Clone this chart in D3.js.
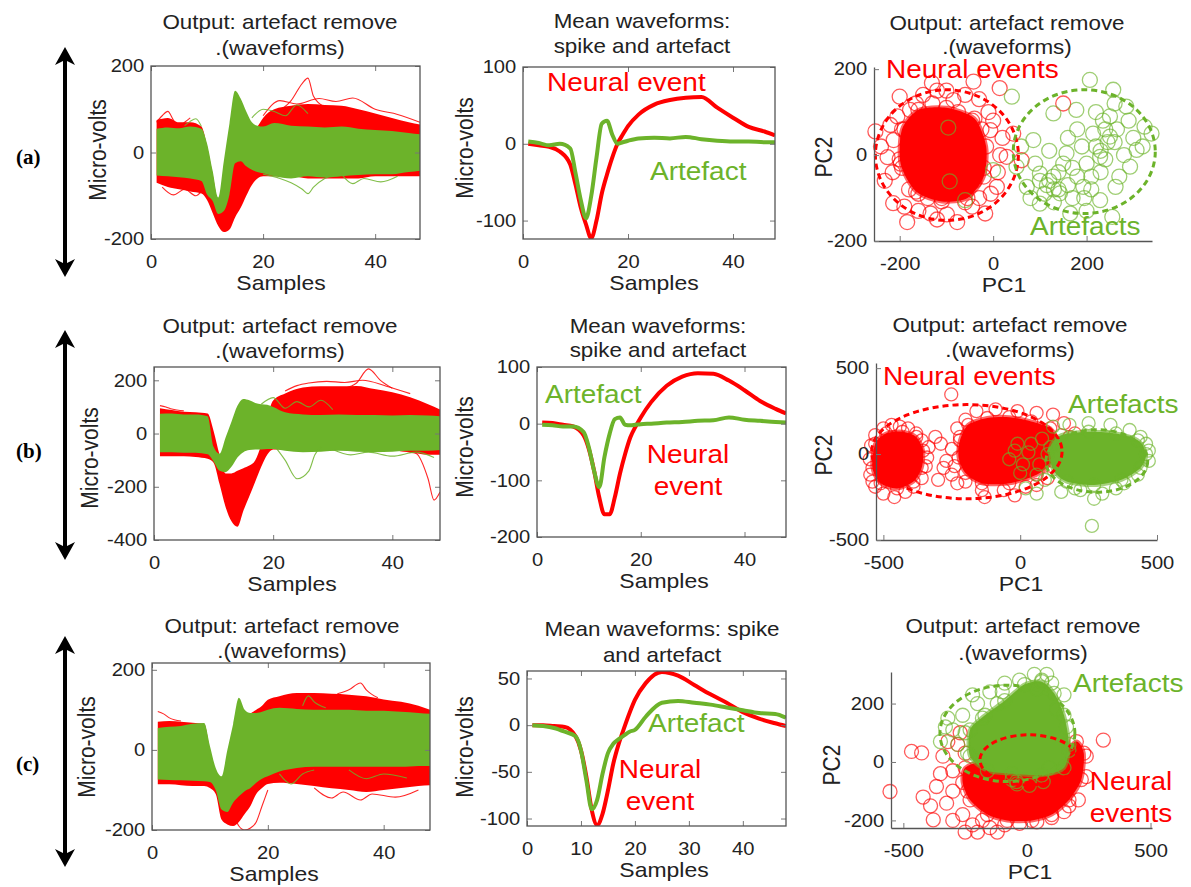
<!DOCTYPE html>
<html>
<head>
<meta charset="utf-8">
<script src="https://cdn.jsdelivr.net/npm/d3@7"></script>
<style>body{margin:0;background:#fff}</style>
</head>
<body>
<div id="container"></div>
<script>
// colours
let red = "#FF0000";
let green = "#6CB32A";
let ink = "#222";
let font = "'Liberation Sans', Arial, sans-serif";
let SX = 1.12; // the picture is a little stretched sideways

// sample grid shared by all waveform panels
let samples = [1,3,5,7,9,10,11,12,13,14,15,16,17,18,19,20,22,25,28,31,34,37,40,43,46,48];

// ---- row (a) ----
let aGreenHi = [55,58,56,60,55,21,-42,-104,-19,67,143,125,95,70,62,60,68,62,60,58,60,55,52,50,45,42];
let aGreenLo = [-53,-55,-57,-60,-66,-97,-112,-142,-135,-97,-25,-20,-32,-40,-45,-48,-55,-60,-55,-58,-55,-52,-50,-50,-45,-42];
let aRedHi = [75,80,70,70,60,15,-50,-110,-60,-20,0,10,30,45,60,80,100,108,112,110,108,100,90,80,70,65];
let aRedLo = [-70,-80,-85,-90,-95,-110,-140,-170,-184,-178,-150,-128,-100,-75,-60,-55,-55,-55,-60,-60,-60,-60,-55,-55,-55,-55];
let aRedOut = [[[22,90],[25,120],[27,160],[28,172],[29,130],[31,105],[34,95]], [[1,70],[2,85],[3,95],[4,75],[5,60],[6,70],[7,80]],
  [[20,85],[23,120],[26,112],[30,125],[33,118],[36,126],[40,100],[44,88],[48,70]], [[2,-80],[4,-98],[6,-85],[8,-100],[9,-90]]];
let aGreenOut = [[[20,-50],[23,-60],[25,-70],[27,-85],[28,-95],[29,-80],[31,-60],[33,-50]], [[18,80],[20,100],[22,95],[24,85],[26,110],[28,90]],
  [[34,-50],[36,-72],[38,-60],[41,-68],[44,-55]], [[6,62],[7,72],[8,78],[9,60]]];
let aMeanRed = [0,-2,-4,-10,-27,-53,-83,-105,-123,-100,-65,-40,-18,0,12,23,38,51,57,60,61,47,34,22,16,11];
let aMeanGreen = [3,1,-2,0,-6,-38,-73,-97,-68,-18,26,30,12,0,2,4,7,8,7,9,6,4,3,3,2,2];
let aRedPts = [[-252,55],[-232,-60],[-214,-112],[-200,136],[-184,-156],[-178,105],[-213,35],[-226,-5],[-131,168],[-85,128],[-42,171],[14,156],[-77,-156],[-134,-136],[-99,-138],[-17,-136],[8,-74],[29,-4],[43,50],[61,-12],[-6,58],[150,120],
  [-190,60],[-175,10],[-170,-40],[-160,-90],[-150,80],[-145,30],[-140,-20],[-135,-60],[-130,120],[-125,50],[-120,0],[-115,-40],[-110,-100],[-105,90],[-100,20],[-95,-15],[-90,-70],[-85,60],[-80,-30],[-75,100],[-70,10],[-65,-50],[-60,-110],[-55,40],[-50,-10],[-45,80],[-40,-60],[-35,20],[-30,-100],[-25,60],[-20,-30],
  [-160,-130],[-195,-30],[-205,90],[-120,150],[-60,140],[-10,100],[20,40],[10,-40],[-150,-5],[-110,40],[-90,-40],[-130,-10],[-100,70],[-70,-80],[-140,-100],[-180,-80],[-45,-120],[-200,-10],[-165,120],
  [-220,70],[-215,-40],[-190,-120],[-150,140],[-100,150],[-30,130],[0,80],[15,0],[-5,-90],[-120,-150],[-240,20]];
let aRedCore = [[-195,60],[-160,105],[-100,110],[-40,85],[-15,20],[-20,-50],[-55,-100],[-110,-108],[-165,-85],[-198,-20]];
let aGreenPts = [[207,175],[40,136],[257,152],[339,50],[324,66],[262,-74],[255,-144],[165,-136],[100,-113],[72,-74],[50,-27],[0,-35],[-60,-105],[86,35],[129,97],[178,105],[285,113],[307,12],[293,-27],[229,-4],[193,-74],[129,-50],[100,-43],[214,50],[250,43],[157,4],[143,-89],[229,-105],
  [120,-60],[140,-40],[160,-70],[180,-50],[200,-20],[220,20],[240,60],[260,30],[280,0],[300,40],[230,-40],[190,20],[150,-20],[110,-90],[130,-110],[170,-100],[250,90],[270,-50],[210,-80],[180,60],[90,-20],[120,10],[240,-10],[200,-130],[290,80],[320,20],[160,40],[100,-60],[140,-80],[220,100],[260,120],[60,20],[80,-100],[-96,64],[-93,-61],[230,10],[210,-50],[170,-30],[130,-80],[115,-70],[245,30],[265,60],[235,80],[195,-100]];
let aRedEllipse = [-99,0,153,152];
let aGreenEllipse = [195,8,152,144];

// ---- row (b) ----
let bGreenHi = [74,75,72,72,65,-50,-76,-16,44,104,130,125,115,110,108,100,80,72,70,72,70,70,68,70,68,65];
let bGreenLo = [-70,-70,-72,-72,-78,-105,-140,-145,-125,-90,-70,-62,-60,-60,-58,-58,-65,-70,-68,-65,-68,-70,-68,-65,-65,-62];
let bRedHi = [95,88,82,80,75,10,-80,-150,-150,-140,-130,-120,-100,-40,60,124,150,173,178,178,179,167,155,136,110,90];
let bRedLo = [-85,-85,-85,-88,-95,-110,-190,-275,-330,-350,-290,-236,-180,-125,-80,-60,-60,-62,-62,-62,-65,-65,-65,-70,-80,-80];
let bRedOut = [[[40,-60],[43,-70],[44,-75],[46,-170],[47,-250],[48,-220]], [[32,170],[34,190],[36,243],[38,200],[40,170]], [[1,105],[2,100],[3,92],[5,85]],
  [[22,160],[24,180],[26,190],[29,196],[32,192],[35,200],[39,178],[43,150]]];
let bGreenOut = [[[20,-40],[22,-100],[24,-170],[26,-140],[27,-80],[28,-50]], [[18,110],[20,135],[22,95],[24,120],[26,100],[28,125],[30,90]],
  [[30,-60],[33,-80],[36,-70],[40,-85],[44,-70],[47,-90]]];
let bMeanRed = [2,1,-2,-5,-21,-45,-83,-130,-160,-160,-130,-88,-53,-24,-5,11,38,67,83,89,88,76,59,40,26,18];
let bMeanGreen = [-2,-3,-5,-5,-15,-42,-83,-112,-59,-18,8,11,-2,-3,-2,-1,0,2,3,5,6,11,7,5,3,2];
let bRedPts = [[-548,-120],[-550,-30],[-545,50],[-530,110],[-500,150],[-470,170],[-440,160],[-410,150],[-380,120],[-360,80],[-335,40],[-340,-20],[-345,-70],[-360,-140],[-390,-190],[-420,-220],[-460,-250],[-500,-230],[-530,-190],[-540,-160],[-480,40],[-440,-40],[-500,-100],[-420,60],[-460,-150],
  [-290,60],[-300,-150],[-250,-120],[-270,-40],[-310,100],[-252,347],[-230,-170],[-280,-80],
  [-230,150],[-200,200],[-160,250],[-90,260],[-10,250],[60,240],[120,230],[160,180],[180,100],[170,20],[150,-60],[100,-140],[20,-190],[-60,-210],[-140,-210],[-200,-160],[-240,-70],[-250,30],[-130,-250],[-20,-240],[200,120],[190,-20],[-220,100],[60,-180],[40,-40],[90,30]];
let bRedCoreL = [[-530,60],[-490,120],[-430,130],[-380,100],[-355,20],[-360,-80],[-390,-160],[-450,-200],[-510,-170],[-540,-80]];
let bRedCoreM = [[-220,80],[-190,170],[-120,210],[-40,215],[40,190],[110,150],[140,60],[120,-40],[60,-120],[-40,-170],[-140,-170],[-200,-110],[-225,-20]];
let bGreenPts = [[30,10],[-20,20],[10,-60],[60,-120],[40,60],[80,90],[90,-150],[20,-200],[60,-230],[150,-220],[220,-210],[270,-260],[300,-230],[262,-418],[180,170],[250,180],[330,170],[400,140],[460,60],[470,-40],[430,-120],[350,-200],[120,160],[0,-110],[-40,-30],[100,0],[130,-20],[200,-200],[380,-170],[470,20],[440,100],[-10,60],[70,-60]];
let bGreenCore = [[110,40],[150,110],[250,130],[350,120],[430,80],[460,0],[440,-80],[370,-150],[270,-180],[170,-160],[120,-90]];
let bRedEllipse = [-195,14,348,274];
let bGreenEllipse = [280,-40,186,182];

// ---- row (c) ----
let cGreenHi = [55,58,60,65,67,10,-45,-66,-1,64,130,100,92,92,95,100,105,102,100,100,100,98,98,95,92,90];
let cGreenLo = [-74,-75,-76,-77,-78,-80,-100,-149,-155,-132,-116,-103,-95,-82,-72,-66,-54,-45,-42,-42,-42,-42,-42,-42,-40,-40];
let cRedHi = [70,72,70,68,65,0,-60,-80,-40,0,40,70,90,100,110,125,134,142,142,140,138,134,126,120,110,100];
let cRedLo = [-86,-86,-88,-90,-90,-95,-110,-174,-186,-190,-180,-160,-140,-110,-95,-85,-82,-85,-90,-96,-100,-105,-100,-95,-90,-88];
let cRedOut = [[[14,-160],[15,-190],[16,-200],[17,-195],[18,-180],[19,-140],[20,-100]], [[32,140],[34,150],[36,167],[37,150],[39,130]], [[1,96],[2,90],[3,80],[5,72]],
  [[28,-95],[31,-120],[33,-105],[36,-125],[38,-110],[42,-118],[46,-100]]];
let cGreenOut = [[[22,-60],[24,-85],[26,-60],[28,-50]], [[26,110],[27,135],[28,120],[30,105]], [[34,-50],[37,-72],[40,-60],[44,-70]]];
let cMeanRed = [0,0,-1,-2,-12,-27,-55,-91,-107,-95,-70,-41,-20,-3,13,27,45,57,53,43,33,24,14,7,2,-1];
let cMeanGreen = [0,-1,-3,-7,-12,-27,-59,-90,-80,-52,-30,-20,-15,-11,-7,-5,9,24,26,24,22,19,16,13,12,8];
let cRedPts = [[-554,-101],[-467,36],[-426,31],[-366,-84],[-379,-198],[-325,-141],[-300,-30],[-340,20],[-280,60],[-260,-180],[-300,-200],[-220,-215],[-150,-225],[-90,-215],[-30,-210],[40,-205],[100,-190],[170,-150],[208,-130],[240,-50],[240,20],[309,75],[-390,-150],[-420,-120],[-300,-100],[-250,-240],[-200,-240],[-350,-40],[-240,-100],[-320,70],[-270,100],[-200,80],[-250,30],[-180,-200],[-120,-240],[150,-170]];
let cRedCore = [[-250,-20],[-180,0],[-100,-30],[0,-40],[80,-20],[150,30],[200,70],[230,30],[220,-60],[170,-130],[100,-180],[20,-200],[-80,-200],[-160,-180],[-230,-130],[-260,-70]];
let cGreenPts = [[-350,70],[-300,110],[-260,160],[-200,200],[-150,240],[-90,270],[-30,280],[30,300],[80,300],[100,270],[150,230],[160,120],[170,40],[-320,150],[-280,60],[-220,230],[-120,200],[-60,-60],[10,-80],[-40,-75],[90,-20],[-42,-67],[66,-67],[-250,100],[-180,150],[40,250],[120,180],[-330,120],[-240,30],[-100,240],[60,280]];
let cGreenCore = [[-230,110],[-170,160],[-90,210],[-10,265],[60,275],[110,235],[150,160],[170,60],[150,-20],[60,-45],[-60,-40],[-160,-30],[-230,20]];
let cRedEllipse = [8,7,198,86];
let cGreenEllipse = [-79,98,273,165];

let waveTicks = [0,20,40];
let waveTicksC = [0,10,20,30,40];

let viz = d3.select("#container")
  .append("svg")
    .attr("width", 1191)
    .attr("height", 887)
    .style("background-color", "white");

function txt(str, x, y, size, color, o) {
  o = o || {};
  return viz.append("text").text(str)
    .attr("transform", "translate(" + x + "," + y + ") scale(" + (o.sx || SX) + ",1)" + (o.rot ? " rotate(-90)" : ""))
    .attr("text-anchor", o.anchor || "start")
    .attr("font-family", o.family || font)
    .attr("font-weight", o.weight || "normal")
    .attr("font-size", size)
    .attr("fill", color);
}

let clipId = 0;
function scales(p) {
  let s = {
    x: d3.scaleLinear().domain(p.xdom).range([p.left, p.right]),
    y: d3.scaleLinear().domain(p.ydom).range([p.bottom, p.top])
  };
  clipId++;
  viz.append("clipPath").attr("id", "clip" + clipId)
    .append("rect").attr("x", p.left).attr("y", p.top)
    .attr("width", p.right - p.left).attr("height", p.bottom - p.top);
  s.g = viz.append("g");
  if (p.box) s.g.attr("clip-path", "url(#clip" + clipId + ")");
  return s;
}

function axes(p, s) {
  let fmt = d => String(d);
  let gx = viz.append("g").attr("transform", "translate(0," + p.bottom + ")")
    .call(d3.axisBottom(s.x).tickValues(p.xticks).tickSize(-5).tickSizeOuter(0).tickPadding(16).tickFormat(fmt));
  let gy = viz.append("g").attr("transform", "translate(" + p.left + ",0)")
    .call(d3.axisLeft(s.y).tickValues(p.yticks).tickSize(-5).tickSizeOuter(0).tickPadding(6).tickFormat(fmt));
  let all = [gx, gy];
  if (p.box) {
    all.push(viz.append("g").attr("transform", "translate(0," + p.top + ")")
      .call(d3.axisTop(s.x).tickValues(p.xticks).tickSize(-5).tickSizeOuter(0).tickFormat("")));
    all.push(viz.append("g").attr("transform", "translate(" + p.right + ",0)")
      .call(d3.axisRight(s.y).tickValues(p.yticks).tickSize(-5).tickSizeOuter(0).tickFormat("")));
    all.forEach(a => a.select(".domain").remove());
    viz.append("rect").attr("x", p.left).attr("y", p.top)
      .attr("width", p.right - p.left).attr("height", p.bottom - p.top)
      .attr("fill", "none").attr("stroke", "#555").attr("stroke-width", 1.3);
  } else {
    all.forEach(a => a.select(".domain").attr("stroke", "#555").attr("stroke-width", 1.3));
  }
  all.forEach(a => {
    a.selectAll(".tick line").attr("stroke", "#777");
    a.selectAll(".tick text")
      .attr("font-size", 18).attr("font-family", font).attr("fill", ink)
      .attr("transform", "scale(" + SX + ",1)");
  });
  // titles and axis labels
  txt(p.title[0], p.tx, p.ty[0], 20, ink, {anchor: "middle"});
  txt(p.title[1], p.tx, p.ty[1], 20, ink, {anchor: "middle"});
  txt(p.xlabel, p.lx, p.bottom + 51, 20.5, ink, {anchor: "middle"});
  txt(p.ylabel, p.yx, p.yy, 21, ink, {anchor: "middle", rot: true});
}

function band(s, hi, lo, color) {
  let rows = samples.map((d, i) => [d, hi[i], lo[i]]);
  s.g.append("path").datum(rows)
    .attr("d", d3.area().x(d => s.x(d[0])).y0(d => s.y(d[2])).y1(d => s.y(d[1])).curve(d3.curveMonotoneX))
    .attr("fill", color);
}

function traces(s, list, color) {
  s.g.selectAll(null).data(list).enter().append("path")
    .attr("d", d3.line().x(d => s.x(d[0])).y(d => s.y(d[1])).curve(d3.curveMonotoneX))
    .attr("fill", "none").attr("stroke", color).attr("stroke-width", 1.1).attr("opacity", 0.85);
}

function meanLine(s, vals, color) {
  let rows = samples.map((d, i) => [d, vals[i]]);
  s.g.append("path").datum(rows)
    .attr("d", d3.line().x(d => s.x(d[0])).y(d => s.y(d[1])).curve(d3.curveMonotoneX))
    .attr("fill", "none").attr("stroke", color).attr("stroke-width", 4)
    .attr("stroke-linejoin", "round");
}

function core(s, pts, color, r) {
  s.g.append("path").datum(pts)
    .attr("d", d3.line().x(d => s.x(d[0])).y(d => s.y(d[1])).curve(d3.curveCardinalClosed.tension(0.2)))
    .attr("fill", color).attr("stroke", color).attr("stroke-width", 4).attr("stroke-opacity", 0.6);
  // the rim of a dense cloud is made of circles too
  dots(s, pts, color, r);
}

function dots(s, pts, color, r) {
  s.g.selectAll(null).data(pts).enter().append("circle")
    .attr("cx", d => s.x(d[0])).attr("cy", d => s.y(d[1])).attr("r", r)
    .attr("fill", "none").attr("stroke", color).attr("stroke-width", 1.3).attr("stroke-opacity", 0.65);
}

function ellipse(s, e, color) {
  s.g.append("ellipse")
    .attr("cx", s.x(e[0])).attr("cy", s.y(e[1]))
    .attr("rx", Math.abs(s.x(e[2]) - s.x(0))).attr("ry", Math.abs(s.y(e[3]) - s.y(0)))
    .attr("fill", "none").attr("stroke", color).attr("stroke-width", 3)
    .attr("stroke-dasharray", "6,4");
}

let outTitle = ["Output: artefact remove", ".(waveforms)"];

// ---------- row (a) ----------
let pA1 = {left:151, right:420, top:66, bottom:239, xdom:[0,48], ydom:[-200,200], xticks:waveTicks, yticks:[-200,0,200], box:true,
  title:outTitle, tx:280, ty:[29,55], xlabel:"Samples", lx:281, ylabel:"Micro-volts", yx:106, yy:150};
let sA1 = scales(pA1);
band(sA1, aRedHi, aRedLo, red);
traces(sA1, aRedOut, red);
band(sA1, aGreenHi, aGreenLo, green);
traces(sA1, aGreenOut, green);
axes(pA1, sA1);

let pA2 = {left:523, right:775, top:67, bottom:239, xdom:[0,48], ydom:[-124,100], xticks:waveTicks, yticks:[-100,0,100], box:true,
  title:["Mean waveforms:", "spike and artefact"], tx:642, ty:[28,53], xlabel:"Samples", lx:654, ylabel:"Micro-volts", yx:473, yy:148};
let sA2 = scales(pA2);
meanLine(sA2, aMeanRed, red);
meanLine(sA2, aMeanGreen, green);
axes(pA2, sA2);
txt("Neural event", 547, 91, 25, red);
txt("Artefact", 650, 180, 25, green);

let pA3 = {left:874, right:1152, top:67, bottom:241, xdom:[-255,340], ydom:[-200,205], xticks:[-200,0,200], yticks:[-200,0,200], box:false,
  title:outTitle, tx:1007, ty:[30,54], xlabel:"PC1", lx:1004, ylabel:"PC2", yx:832, yy:157};
let sA3 = scales(pA3);
core(sA3, aRedCore, red, 7.5);
dots(sA3, aRedPts, red, 7.5);
dots(sA3, aGreenPts, green, 7.5);
ellipse(sA3, aRedEllipse, red);
ellipse(sA3, aGreenEllipse, green);
axes(pA3, sA3);
txt("Neural events", 886, 78, 25, red);
txt("Artefacts", 1030, 235, 25, green);

// ---------- row (b) ----------
let pB1 = {left:154, right:440, top:367, bottom:540, xdom:[0,48], ydom:[-400,250], xticks:waveTicks, yticks:[-400,-200,0,200], box:true,
  title:outTitle, tx:280, ty:[333,358], xlabel:"Samples", lx:292, ylabel:"Micro-volts", yx:98, yy:458};
let sB1 = scales(pB1);
band(sB1, bRedHi, bRedLo, red);
traces(sB1, bRedOut, red);
band(sB1, bGreenHi, bGreenLo, green);
traces(sB1, bGreenOut, green);
axes(pB1, sB1);

let pB2 = {left:537, right:786, top:367, bottom:537, xdom:[0,48], ydom:[-200,100], xticks:waveTicks, yticks:[-200,-100,0,100], box:true,
  title:["Mean waveforms:", "spike and artefact"], tx:658, ty:[333,357], xlabel:"Samples", lx:664, ylabel:"Micro-volts", yx:473, yy:447};
let sB2 = scales(pB2);
meanLine(sB2, bMeanRed, red);
meanLine(sB2, bMeanGreen, green);
axes(pB2, sB2);
txt("Artefact", 545, 403, 25, green);
txt("Neural", 688, 463, 25, red, {anchor:"middle"});
txt("event", 688, 495, 25, red, {anchor:"middle"});

let pB3 = {left:876, right:1157, top:363, bottom:540, xdom:[-527,500], ydom:[-500,530], xticks:[-500,0,500], yticks:[-500,0,500], box:false,
  title:outTitle, tx:1010, ty:[332,357], xlabel:"PC1", lx:1021, ylabel:"PC2", yx:832, yy:455};
let sB3 = scales(pB3);
core(sB3, bRedCoreL, red, 6.5);
core(sB3, bRedCoreM, red, 6.5);
dots(sB3, bRedPts, red, 6.5);
core(sB3, bGreenCore, green, 6.5);
dots(sB3, bGreenPts, green, 6.5);
ellipse(sB3, bRedEllipse, red);
ellipse(sB3, bGreenEllipse, green);
axes(pB3, sB3);
txt("Neural events", 883, 385, 25, red);
txt("Artefacts", 1068, 413, 25, green);

// ---------- row (c) ----------
let pC1 = {left:152, right:430, top:663, bottom:830, xdom:[0,48], ydom:[-200,217], xticks:waveTicks, yticks:[-200,0,200], box:true,
  title:outTitle, tx:282, ty:[633,658], xlabel:"Samples", lx:274, ylabel:"Micro-volts", yx:95, yy:747};
let sC1 = scales(pC1);
band(sC1, cRedHi, cRedLo, red);
traces(sC1, cRedOut, red);
band(sC1, cGreenHi, cGreenLo, green);
traces(sC1, cGreenOut, green);
axes(pC1, sC1);

let pC2 = {left:527, right:786, top:671, bottom:826, xdom:[0,48], ydom:[-108,58], xticks:waveTicksC, yticks:[-100,-50,0,50], box:true,
  title:["Mean waveforms: spike", "and artefact"], tx:662, ty:[636,662], xlabel:"Samples", lx:664, ylabel:"Micro-volts", yx:473, yy:747};
let sC2 = scales(pC2);
meanLine(sC2, cMeanRed, red);
meanLine(sC2, cMeanGreen, green);
axes(pC2, sC2);
txt("Artefact", 648, 732, 25, green);
txt("Neural", 660, 778, 25, red, {anchor:"middle"});
txt("event", 660, 810, 25, red, {anchor:"middle"});

let pC3 = {left:891, right:1152, top:672, bottom:828, xdom:[-550,506], ydom:[-226,308], xticks:[-500,0,500], yticks:[-200,0,200], box:false,
  title:outTitle, tx:1023, ty:[633,660], xlabel:"PC1", lx:1030, ylabel:"PC2", yx:840, yy:765};
let sC3 = scales(pC3);
core(sC3, cRedCore, red, 7);
dots(sC3, cRedPts, red, 7);
core(sC3, cGreenCore, green, 7);
dots(sC3, cGreenPts, green, 7);
ellipse(sC3, cRedEllipse, red);
ellipse(sC3, cGreenEllipse, green);
axes(pC3, sC3);
txt("Artefacts", 1073, 692, 25, green);
txt("Neural", 1131, 790, 25, red, {anchor:"middle"});
txt("events", 1131, 822, 25, red, {anchor:"middle"});

// ---------- row markers and double arrows ----------
let rowLabels = ["(a)", "(b)", "(c)"];
let rowLabelY = [164, 458, 771];
let arrowSpan = [[47,277],[330,560],[636,867]];
rowLabels.forEach((t, i) => {
  txt(t, 16, rowLabelY[i], 21, "#000", {family:"'Liberation Serif', 'Times New Roman', serif", weight:"bold", sx:1});
  let y1 = arrowSpan[i][0], y2 = arrowSpan[i][1];
  viz.append("line").attr("x1", 65).attr("x2", 65).attr("y1", y1 + 12).attr("y2", y2 - 12)
    .attr("stroke", "#000").attr("stroke-width", 4);
  viz.append("path").attr("d", "M65," + y1 + " L75," + (y1 + 18) + " L65," + (y1 + 13) + " L55," + (y1 + 18) + " Z").attr("fill", "#000");
  viz.append("path").attr("d", "M65," + y2 + " L75," + (y2 - 18) + " L65," + (y2 - 13) + " L55," + (y2 - 18) + " Z").attr("fill", "#000");
});
</script>
</body>
</html>
